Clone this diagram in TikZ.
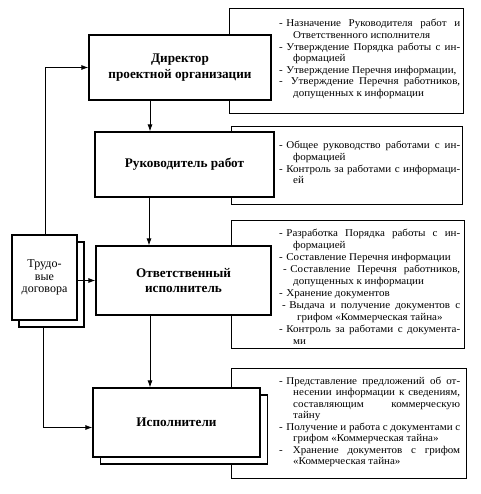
\documentclass[tikz,border=0pt]{standalone}
\usepackage{fontspec}
\setmainfont{Liberation Serif}
\newfontfamily\descfont{Liberation Serif}[FakeStretch=1.06]
\usetikzlibrary{arrows.meta,calc}
\newcommand\JL[1]{\makebox[\linewidth][s]{#1}}
\newcommand\myIJ[2]{\hspace*{#1}\makebox[\dimexpr\linewidth-#1\relax][s]{#2}}
\newcommand\CL[1]{\hspace*{14pt}#1}
\newcommand\CJ[1]{\hspace*{14pt}\makebox[\dimexpr\linewidth-14pt\relax][s]{#1}}
\newcommand\ds[1][3.5pt]{-\hspace{#1}}
\begin{document}
\begin{tikzpicture}[x=1pt,y=-1pt,
  mainbox/.style={draw, line width=1.2pt, fill=white, inner sep=2pt, align=center, font=\fontsize{13.2}{15.5}\selectfont\bfseries},
  shadowbox/.style={draw, line width=1.2pt, fill=white, inner sep=0pt},
  descbox/.style={draw, line width=0.8pt, fill=white, inner sep=0pt},
  desctext/.style={anchor=base west, inner sep=0pt, font=\descfont\fontsize{10.4}{11.7}\selectfont},
  trudbox/.style={draw, line width=1.2pt, fill=white, inner sep=1pt, align=center, font=\fontsize{12}{12.5}\selectfont},
  arr/.style={line width=0.8pt, -{Latex[length=7pt,width=5pt]}},
  conn/.style={line width=0.8pt}]
\useasboundingbox (0,0) rectangle (480,494);
% description boxes
\node[descbox, minimum width=234pt, minimum height=105pt] (d1) at (346,60.5) {};
\node[descbox, minimum width=231pt, minimum height=78pt] (d2) at (346.5,165) {};
\node[descbox, minimum width=233pt, minimum height=128pt] (d3) at (347.5,284) {};
\node[descbox, minimum width=235pt, minimum height=110pt] (d4) at (348.5,423) {};
% description texts
\node[desctext] (t1) at (279,27) {\parbox[t]{181pt}{\descfont\fontsize{10.4}{11.6}\selectfont
\JL{\ds Назначение Руководителя работ и}\\
\CL{Ответственного исполнителя}\\
\JL{\ds Утверждение Порядка работы с ин-}\\
\CL{формацией}\\
\ds Утверждение Перечня информации,\\
\JL{\ds[8pt]Утверждение Перечня работников,}\\
\CL{допущенных к информации}}};
\node[desctext] (t2) at (279,149) {\parbox[t]{181pt}{\descfont\fontsize{10.4}{11.6}\selectfont
\JL{\ds Общее руководство работами с ин-}\\
\CL{формацией}\\
\JL{\ds Контроль за работами с информаци-}\\
\CL{ей}}};
\node[desctext] (t3) at (279,236) {\parbox[t]{181pt}{\descfont\fontsize{10.4}{12.1}\selectfont
\JL{\ds Разработка Порядка работы с ин-}\\
\CL{формацией}\\
\ds Составление Перечня информации\\
\myIJ{4pt}{\ds Составление Перечня работников,}\\
\CL{допущенных к информации}\\
\ds Хранение документов\\
\myIJ{3pt}{\ds Выдача и получение документов с}\\
\hspace*{18pt}грифом «Коммерческая тайна»\\
\JL{\ds Контроль за работами с документа-}\\
\CL{ми}}};
\node[desctext] (t4) at (279,384) {\parbox[t]{181pt}{\descfont\fontsize{10.4}{11.5}\selectfont
\JL{\ds Представление предложений об от-}\\
\CJ{несении информации к сведениям,}\\
\CJ{составляющим коммерческую}\\
\CL{тайну}\\
\JL{\ds Получение и работа с документами с}\\
\CL{грифом «Коммерческая тайна»}\\
\JL{\ds[10pt]Хранение документов с грифом}\\
\CL{«Коммерческая тайна»}}};
% main boxes
\node[mainbox, minimum width=182pt, minimum height=65pt] (dir) at (180,67.5) {Директор\\проектной организации};
\node[mainbox, minimum width=179pt, minimum height=65pt] (ruk) at (184.5,164.5) {Руководитель работ};
\node[mainbox, minimum width=175pt, minimum height=69pt] (otv) at (183.5,280.5) {Ответственный\\исполнитель};
\node[shadowbox, minimum width=167pt, minimum height=69pt] (isps) at (184,429.5) {};
\node[mainbox, minimum width=167pt, minimum height=69pt] (isp) at (176.5,422.5) {Исполнители};
\node[shadowbox, minimum width=65pt, minimum height=85pt] (truds) at (51.5,284.5) {};
\node[trudbox, minimum width=65pt, minimum height=85pt] (trud) at (44.5,277.5) {Трудо-\\вые\\договора};
% connectors
\coordinate (v1) at (150,0);
\coordinate (v2) at (149,0);
\coordinate (v3) at (45,0);
\coordinate (v4) at (43,0);
\draw[arr] (v1 |- dir.south) -- (v1 |- ruk.north);
\draw[arr] (v2 |- ruk.south) -- (v2 |- otv.north);
\draw[arr] (v1 |- otv.south) -- (v1 |- isp.north);
\draw[arr] (v3 |- trud.north) |- (dir.west);
\draw[arr] (trud.east |- otv.west) -- (otv.west);
\draw[arr] (v4 |- truds.south) |- ([yshift=-5pt]isp.west);
\end{tikzpicture}
\end{document}
